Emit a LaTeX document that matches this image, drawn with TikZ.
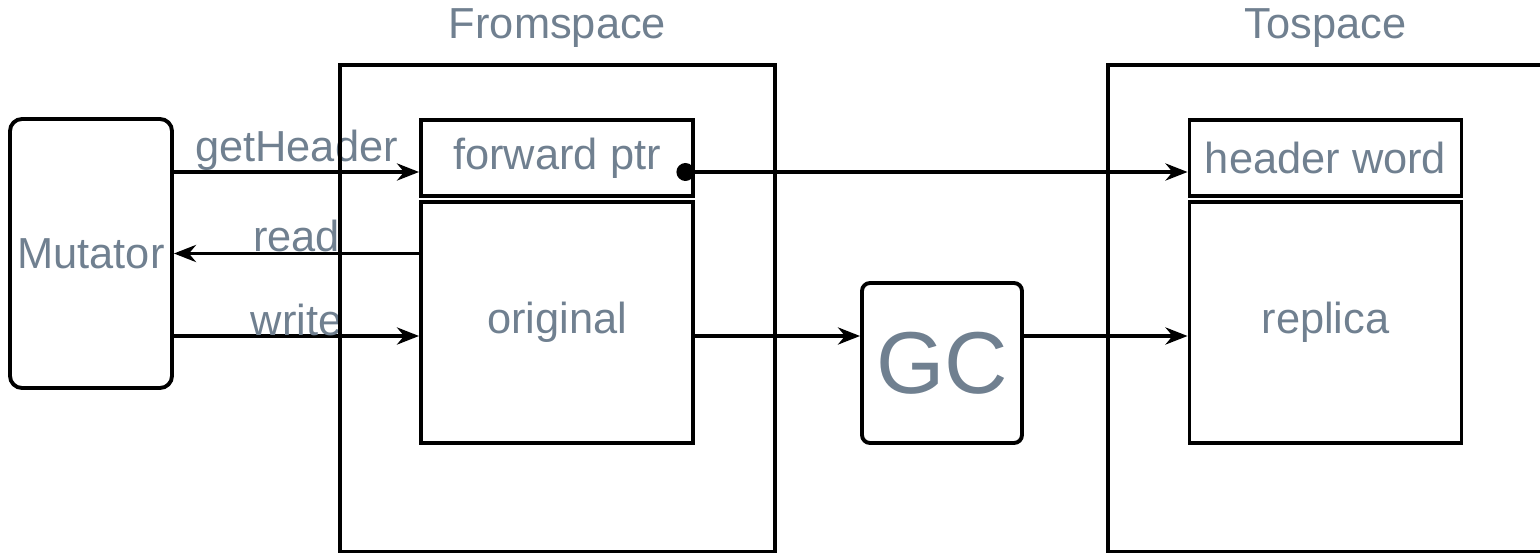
\documentclass[tikz,border=0pt]{standalone}
\usepackage{fontspec}
\setmainfont{Liberation Sans}
\usetikzlibrary{arrows.meta}
\definecolor{labelgray}{HTML}{708090}

\begin{document}
\begin{tikzpicture}[>={Stealth[length=4.4mm, width=3.4mm, inset=1.4mm]}, line width=2.2pt,
    lbl/.style={text=labelgray, font=\fontsize{24.7}{29}\selectfont},
    cell/.style={draw, lbl, minimum width=5.44cm, inner sep=0pt},
    space/.style={draw, minimum width=8.7cm, minimum height=9.74cm}]
    \useasboundingbox (0,0) rectangle (30.8,-11.06);

    % Mutator and GC
    \node[draw, lbl, rounded corners=0.24cm, minimum width=3.24cm, minimum height=5.38cm] (mut) at (1.82,-5.07) {Mutator};
    \node[draw, rounded corners=0.16cm, minimum width=3.2cm, minimum height=3.2cm, text=labelgray, font=\fontsize{50}{56}\selectfont] (gc) at (18.84,-7.26) {GC};

    % Object in fromspace
    \node[cell, minimum height=1.52cm] (fwd) at (11.14,-3.16) {forward ptr};
    \node[cell, minimum height=4.82cm] (orig) at (11.14,-6.45) {original};

    % Copy in tospace
    \node[cell, minimum height=1.52cm] (hdr) at (26.51,-3.16) {header word};
    \node[cell, minimum height=4.82cm] (rep) at (26.51,-6.45) {replica};

    % Heights of the arrows
    \coordinate (hy) at (0,-3.44);
    \coordinate (wy) at (0,-6.72);
    \coordinate (ptr) at ([xshift=-0.19cm]fwd.east |- hy);

    % Mutator accesses
    \draw[->] (mut.east |- hy) -- (fwd.west |- hy) node[lbl, midway, anchor=base, yshift=0.2cm] {getHeader};
    \draw[->] (orig.west |- mut.east) -- (mut.east) node[lbl, midway, anchor=base, yshift=0.04cm] {read};
    \draw[->] (mut.east |- wy) -- (orig.west |- wy) node[lbl, midway, anchor=base, yshift=0.02cm] {write};

    % Copying
    \draw[->] (orig.east |- wy) -- (gc.west |- wy);
    \draw[->] (gc.east |- wy) -- (rep.west |- wy);
    \fill (ptr) circle (0.18);
    \draw[->] (ptr) -- (hdr.west |- hy);

    % Semispaces
    \node[space] (from) at (11.15,-6.17) {};
    \node[space] (to) at (26.51,-6.17) {};
    \node[lbl, anchor=base] at ([yshift=0.5cm]from.north) {Fromspace};
    \node[lbl, anchor=base] at ([yshift=0.5cm]to.north) {Tospace};
\end{tikzpicture}
\end{document}
